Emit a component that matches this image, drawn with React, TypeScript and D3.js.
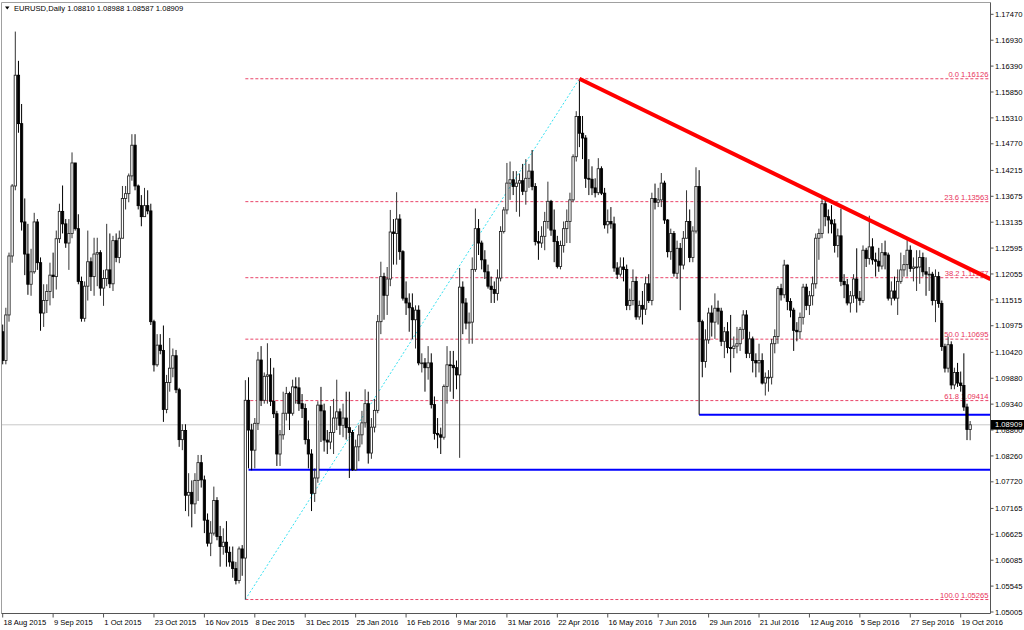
import * as d3 from 'd3';

// EURUSD daily, one value per trading day from 18 Aug 2015 to 24 Oct 2016 (one row per week)
const firstOpen = 1.1085;

const closes = [
  1.1025, 1.1120, 1.1243, 1.1389,
  1.1620, 1.1519, 1.1314, 1.1247, 1.1184,
  1.1210, 1.1314, 1.1229, 1.1124, 1.1150,
  1.1169, 1.1203, 1.1200, 1.1279, 1.1336,
  1.1310, 1.1270, 1.1290, 1.1437, 1.1300,
  1.1190, 1.1113, 1.1180, 1.1231, 1.1200,
  1.1247, 1.1250, 1.1176, 1.1196, 1.1214,
  1.1185, 1.1275, 1.1240, 1.1280, 1.1363,
  1.1373, 1.1410, 1.1474, 1.1389, 1.1348,
  1.1325, 1.1348, 1.1337, 1.1106, 1.1016,
  1.1057, 1.1046, 1.0923, 1.0979, 1.1009,
  1.1035, 1.0964, 1.0860, 1.0879, 1.0744,
  1.0750, 1.0726, 1.0775, 1.0812, 1.0776,
  1.0692, 1.0644, 1.0665, 1.0733, 1.0658,
  1.0637, 1.0646, 1.0625, 1.0605, 1.0591,
  1.0566, 1.0632, 1.0613, 1.0942, 1.0880,
  1.0838, 1.0894, 1.1026, 1.0942, 1.0992,
  1.0995, 1.0940, 1.0914, 1.0830, 1.0870,
  1.0915, 1.0956, 1.0915, 1.0970,
  1.0968, 1.0935, 1.0925, 1.0860,
  1.0830, 1.0748, 1.0780, 1.0932, 1.0920,
  1.0859, 1.0855, 1.0875, 1.0905, 1.0918,
  1.0890, 1.0905, 1.0885, 1.0875, 1.0797,
  1.0845, 1.0870, 1.0895, 1.0935, 1.0832,
  1.0886, 1.0921, 1.1106, 1.1200, 1.1161,
  1.1195, 1.1293, 1.1290, 1.1320, 1.1252,
  1.1155, 1.1145, 1.1135, 1.1110, 1.1130,
  1.1020, 1.1020, 1.1010, 1.1020, 1.0933,
  1.0873, 1.0870, 1.0865, 1.0971, 1.1016,
  1.1015, 1.1010, 1.0995, 1.1178, 1.1145,
  1.1103, 1.1105, 1.1215, 1.1300, 1.1270,
  1.1235, 1.1210, 1.1180, 1.1173, 1.1165,
  1.1197, 1.1294, 1.1339, 1.1395, 1.1402,
  1.1388, 1.1395, 1.1400, 1.1378, 1.1405,
  1.1420, 1.1388, 1.1273, 1.1270, 1.1284,
  1.1315, 1.1357, 1.1297, 1.1273, 1.1221,
  1.1265, 1.1300, 1.1315, 1.1360, 1.1450,
  1.1534, 1.1499, 1.1489, 1.1405, 1.1403,
  1.1385, 1.1375, 1.1425, 1.1374, 1.1308,
  1.1315, 1.1310, 1.1218, 1.1205, 1.1220,
  1.1215, 1.1140, 1.1150, 1.1190, 1.1116,
  1.1140, 1.1132, 1.1185, 1.1150, 1.1363,
  1.1355, 1.1360, 1.1395, 1.1318, 1.1252,
  1.1290, 1.1207, 1.1259, 1.1224, 1.1280,
  1.1315, 1.1240, 1.1295, 1.1388, 1.1106,
  1.1023, 1.1068, 1.1124, 1.1105, 1.1134,
  1.1128, 1.1065, 1.1085, 1.1052, 1.1050,
  1.1055, 1.1060, 1.1090, 1.1120, 1.1040,
  1.1070, 1.1025, 1.1020, 1.1025, 1.0978,
  1.0990, 1.0990, 1.1060, 1.1075, 1.1175,
  1.1162, 1.1224, 1.1148, 1.1130, 1.1088,
  1.1085, 1.1115, 1.1178, 1.1140, 1.1160,
  1.1185, 1.1280, 1.1290, 1.1352, 1.1325,
  1.1318, 1.1310, 1.1265, 1.1285, 1.1190,
  1.1183, 1.1145, 1.1160, 1.1195, 1.1155,
  1.1150, 1.1255, 1.1238, 1.1262, 1.1235,
  1.1232, 1.1222, 1.1250, 1.1245, 1.1155,
  1.1170, 1.1155, 1.1190, 1.1214, 1.1225,
  1.1255, 1.1217, 1.1220, 1.1220, 1.1240,
  1.1210, 1.1205, 1.1205, 1.1150, 1.1200,
  1.1144, 1.1054, 1.1009, 1.1058, 1.0974,
  1.1000, 1.0978, 1.0973, 1.0928, 1.0881,
  1.08909,
];

const highs = [
  1.1100, 1.1135, 1.1250, 1.1393,
  1.1711, 1.1650, 1.1560, 1.1363, 1.1310,
  1.1258, 1.1333, 1.1320, 1.1240, 1.1184,
  1.1184, 1.1229, 1.1250, 1.1296, 1.1352,
  1.1390, 1.1320, 1.1320, 1.1459, 1.1437,
  1.1330, 1.1200, 1.1190, 1.1296, 1.1240,
  1.1281, 1.1281, 1.1255, 1.1214, 1.1310,
  1.1290, 1.1285, 1.1290, 1.1296, 1.1389,
  1.1389, 1.1415, 1.1497, 1.1497, 1.1392,
  1.1370, 1.1385, 1.1380, 1.1352, 1.1110,
  1.1080, 1.1080, 1.1098, 1.0995, 1.1072,
  1.1050, 1.1047, 1.0968, 1.0892, 1.0892,
  1.0790, 1.0775, 1.0790, 1.0828, 1.0828,
  1.0785, 1.0706, 1.0690, 1.0762, 1.0740,
  1.0680, 1.0675, 1.0690, 1.0637, 1.0637,
  1.0605, 1.0637, 1.0640, 1.0984, 1.0990,
  1.0893, 1.0905, 1.1043, 1.1055, 1.1000,
  1.1061, 1.1030, 1.1010, 1.0920, 1.0880,
  1.0960, 1.0970, 1.0960, 1.0985,
  1.0990, 1.0990, 1.0955, 1.0935,
  1.0900, 1.0840, 1.0800, 1.0940, 1.0970,
  1.0935, 1.0880, 1.0930, 1.0945, 1.0985,
  1.0925, 1.0935, 1.0960, 1.0960, 1.0880,
  1.0860, 1.0890, 1.0920, 1.0965, 1.0960,
  1.0905, 1.0945, 1.1120, 1.1231, 1.1208,
  1.1220, 1.1339, 1.1320, 1.1376, 1.1330,
  1.1255, 1.1190, 1.1165, 1.1165, 1.1140,
  1.1140, 1.1040, 1.1030, 1.1055, 1.1040,
  1.0950, 1.0905, 1.0885, 1.0975, 1.1055,
  1.1045, 1.1045, 1.1025, 1.1218, 1.1190,
  1.1155, 1.1125, 1.1240, 1.1342, 1.1320,
  1.1275, 1.1255, 1.1225, 1.1200, 1.1190,
  1.1215, 1.1305, 1.1345, 1.1437, 1.1440,
  1.1420, 1.1420, 1.1415, 1.1435, 1.1445,
  1.1435, 1.1464, 1.1395, 1.1295, 1.1305,
  1.1335, 1.1398, 1.1360, 1.1340, 1.1285,
  1.1275, 1.1315, 1.1340, 1.1375, 1.1455,
  1.1545, 1.16126, 1.1535, 1.1495, 1.1445,
  1.1430, 1.1405, 1.1447, 1.1430, 1.1385,
  1.1340, 1.1345, 1.1325, 1.1230, 1.1240,
  1.1240, 1.1225, 1.1175, 1.1215, 1.1200,
  1.1150, 1.1170, 1.1200, 1.1205, 1.1375,
  1.1394, 1.1385, 1.1416, 1.1400, 1.1320,
  1.1300, 1.1295, 1.1275, 1.1270, 1.1295,
  1.1380, 1.1340, 1.1305, 1.1428, 1.1422,
  1.1110, 1.1090, 1.1135, 1.1140, 1.1165,
  1.1150, 1.1135, 1.1095, 1.1105, 1.1120,
  1.1075, 1.1095, 1.1095, 1.1130, 1.1130,
  1.1085, 1.1075, 1.1040, 1.1060, 1.1040,
  1.1000, 1.1005, 1.1070, 1.1090, 1.1180,
  1.1185, 1.1235, 1.1225, 1.1155, 1.1135,
  1.1105, 1.1125, 1.1185, 1.1185, 1.1170,
  1.1200, 1.1290, 1.1300, 1.1366, 1.1360,
  1.1340, 1.1349, 1.1320, 1.1300, 1.1342,
  1.1205, 1.1195, 1.1170, 1.1205, 1.1259,
  1.1170, 1.1265, 1.1260, 1.1327, 1.1280,
  1.1250, 1.1260, 1.1270, 1.1275, 1.1250,
  1.1190, 1.1200, 1.1215, 1.1250, 1.1245,
  1.1276, 1.1265, 1.1240, 1.1255, 1.1255,
  1.1250, 1.1240, 1.1220, 1.1210, 1.1215,
  1.1210, 1.1150, 1.1060, 1.1075, 1.1065,
  1.1010, 1.1020, 1.1002, 1.1040, 1.0935,
  1.08988,
];

const lows = [
  1.1017, 1.1017, 1.1106, 1.1229,
  1.1380, 1.1500, 1.1296, 1.1203, 1.1162,
  1.1160, 1.1206, 1.1214, 1.1087, 1.1095,
  1.1124, 1.1140, 1.1155, 1.1173, 1.1270,
  1.1290, 1.1260, 1.1214, 1.1280, 1.1296,
  1.1184, 1.1106, 1.1106, 1.1150, 1.1170,
  1.1160, 1.1180, 1.1160, 1.1139, 1.1180,
  1.1176, 1.1170, 1.1230, 1.1228, 1.1280,
  1.1340, 1.1355, 1.1400, 1.1380, 1.1340,
  1.1305, 1.1325, 1.1330, 1.1099, 1.1002,
  1.1012, 1.1038, 1.0897, 1.0915, 1.0960,
  1.0990, 1.0957, 1.0845, 1.0838, 1.0711,
  1.0700, 1.0677, 1.0705, 1.0732, 1.0760,
  1.0665, 1.0637, 1.0617, 1.0660, 1.0650,
  1.0595, 1.0620, 1.0595, 1.0595, 1.0572,
  1.0558, 1.0560, 1.0576, 1.05265, 1.0800,
  1.0796, 1.0800, 1.0880, 1.0930, 1.0935,
  1.0935, 1.0930, 1.0905, 1.0805, 1.0805,
  1.0860, 1.0900, 1.0880, 1.0910,
  1.0935, 1.0920, 1.0905, 1.0850,
  1.0800, 1.0711, 1.0730, 1.0770, 1.0855,
  1.0835, 1.0830, 1.0840, 1.0830, 1.0880,
  1.0870, 1.0865, 1.0860, 1.0780, 1.0795,
  1.0795, 1.0815, 1.0850, 1.0885, 1.0810,
  1.0820, 1.0875, 1.0915, 1.1080, 1.1110,
  1.1120, 1.1180, 1.1225, 1.1225, 1.1235,
  1.1150, 1.1120, 1.1085, 1.1070, 1.1050,
  1.1015, 1.1000, 1.0960, 1.0985, 1.0925,
  1.0860, 1.0842, 1.0830, 1.0860, 1.0935,
  1.0960, 1.0945, 1.0965, 1.0822, 1.1080,
  1.1090, 1.1060, 1.1060, 1.1210, 1.1245,
  1.1215, 1.1195, 1.1175, 1.1145, 1.1145,
  1.1150, 1.1190, 1.1290, 1.1330, 1.1360,
  1.1370, 1.1335, 1.1325, 1.1370, 1.1350,
  1.1385, 1.1380, 1.1265, 1.1235, 1.1260,
  1.1255, 1.1300, 1.1285, 1.1230, 1.1217,
  1.1215, 1.1250, 1.1270, 1.1270, 1.1355,
  1.1440, 1.1470, 1.1445, 1.1385, 1.1370,
  1.1370, 1.1365, 1.1370, 1.1370, 1.1300,
  1.1290, 1.1300, 1.1210, 1.1195, 1.1200,
  1.1190, 1.1130, 1.1130, 1.1140, 1.1110,
  1.1110, 1.1100, 1.1120, 1.1145, 1.1140,
  1.1340, 1.1345, 1.1345, 1.1310, 1.1240,
  1.1235, 1.1200, 1.1195, 1.1130, 1.1215,
  1.1280, 1.1230, 1.1230, 1.1290, 1.0912,
  1.0990, 1.1010, 1.1060, 1.1075, 1.1070,
  1.1100, 1.1055, 1.1030, 1.1040, 1.1000,
  1.1030, 1.1040, 1.1045, 1.1070, 1.1030,
  1.1030, 1.1000, 1.0990, 1.1000, 1.0975,
  1.0952, 1.0960, 1.0975, 1.1040, 1.1060,
  1.1150, 1.1155, 1.1130, 1.1115, 1.1045,
  1.1065, 1.1070, 1.1100, 1.1130, 1.1120,
  1.1140, 1.1175, 1.1235, 1.1280, 1.1305,
  1.1290, 1.1290, 1.1250, 1.1240, 1.1180,
  1.1155, 1.1140, 1.1125, 1.1145, 1.1125,
  1.1140, 1.1145, 1.1220, 1.1225, 1.1225,
  1.1200, 1.1210, 1.1215, 1.1215, 1.1150,
  1.1140, 1.1150, 1.1120, 1.1185, 1.1200,
  1.1200, 1.1210, 1.1190, 1.1170, 1.1185,
  1.1200, 1.1160, 1.1170, 1.1140, 1.1105,
  1.1135, 1.1045, 1.1000, 1.1000, 1.0965,
  1.0965, 1.0970, 1.0960, 1.0920, 1.0859,
  1.08587,
];

// time axis: one label every 16 bars
const dateLabels = [
  '18 Aug 2015', '9 Sep 2015', '1 Oct 2015', '23 Oct 2015', '16 Nov 2015',
  '8 Dec 2015', '31 Dec 2015', '25 Jan 2016', '16 Feb 2016', '9 Mar 2016',
  '31 Mar 2016', '22 Apr 2016', '16 May 2016', '7 Jun 2016', '29 Jun 2016',
  '21 Jul 2016', '12 Aug 2016', '5 Sep 2016', '27 Sep 2016', '19 Oct 2016',
];
const labelEvery = 16;

const priceTicks = [
  '1.17470', '1.16930', '1.16390', '1.15850', '1.15310', '1.14770', '1.14215', '1.13675',
  '1.13135', '1.12595', '1.12055', '1.11515', '1.10975', '1.10420', '1.09880', '1.09340',
  '1.08800', '1.08260', '1.07720', '1.07165', '1.06625', '1.06085', '1.05545', '1.05005',
];

// fibonacci retracement drawn from the 3 Dec 2015 low to the 3 May 2016 high
const fibRatios = ['0.0', '23.6', '38.2', '50.0', '61.8', '100.0'];
const fibPrices = [1.16126, 1.13563, 1.11977, 1.10695, 1.09414, 1.05265];
const fibLowBar = 77;
const fibHighBar = 183;

// falling resistance: May high through the August high
const resistance: [number, number][] = [[183, 1.16126], [260, 1.1366]];
// horizontal supports: [first bar, price]
const supports: [number, number][] = [[78, 1.0797], [221, 1.0912]];

const FONT = "'Liberation Sans', Arial, sans-serif";
const FS = 7.6;
const FIB_COLOR = '#e8325a';

export default function App() {
  const width = 1024;
  const height = 630;
  const plot = { left: 1.5, top: 2.5, right: 990.5, bottom: 613.5 };

  const lastTickBar = (dateLabels.length - 1) * labelEvery;
  const x = d3.scaleLinear().domain([0, lastTickBar]).range([2.7, 960.7]);
  const y = d3.scaleLinear().domain([1.04984, 1.17727]).range([613, 2]);

  const bars = closes.map((c, i) => {
    const o = i === 0 ? firstOpen : closes[i - 1];
    return { i, o, c, h: Math.max(highs[i], o, c), l: Math.min(lows[i], o, c) };
  });
  const last = bars[bars.length - 1];
  const lastPrice = last.c;

  const rightBar = x.invert(plot.right);
  const [[r1i, r1p], [r2i, r2p]] = resistance;
  const rSlope = (r2p - r1p) / (r2i - r1i);
  const rEndPrice = r1p + rSlope * (rightBar - r1i);

  const bodyW = 2.3;
  const fmt = (v: number) => v.toFixed(5);

  return (
    <div style={{ position: 'absolute', left: 0, top: 0, background: '#fff' }}>
      <svg width={width} height={height} style={{ display: 'block', fontFamily: FONT }}>
        <rect x={0} y={0} width={width} height={height} fill="#fff" />
        <defs>
          <clipPath id="plotClip">
            <rect x={plot.left} y={plot.top} width={plot.right - plot.left} height={plot.bottom - plot.top} />
          </clipPath>
        </defs>

        <g clipPath="url(#plotClip)">
          {/* current price line */}
          <line x1={plot.left} x2={plot.right} y1={y(lastPrice)} y2={y(lastPrice)} stroke="#c8c8c8" strokeWidth={1} />

          {/* fibonacci levels */}
          {fibPrices.map((p, k) => (
            <g key={`fib${k}`}>
              <line x1={x(fibLowBar)} x2={plot.right} y1={y(p)} y2={y(p)} stroke={FIB_COLOR} strokeWidth={1} strokeDasharray="3,2" opacity={0.9} />
              <text x={plot.right - 2} y={y(p) - 2} textAnchor="end" fontSize={FS} fill={FIB_COLOR}>
                {`${fibRatios[k]} ${fmt(p)}`}
              </text>
            </g>
          ))}

          {/* fibonacci base line */}
          <line
            x1={x(fibLowBar)} y1={y(fibPrices[fibPrices.length - 1])}
            x2={x(fibHighBar)} y2={y(fibPrices[0])}
            stroke="#33e0f0" strokeWidth={1} strokeDasharray="2,2"
          />

          {/* supports */}
          {supports.map(([from, p], k) => (
            <line key={`sup${k}`} x1={x(from)} x2={plot.right} y1={y(p)} y2={y(p)} stroke="#0000ff" strokeWidth={2} />
          ))}

          {/* candles */}
          {bars.map((b) => {
            const cx = x(b.i);
            const up = b.c >= b.o;
            const top = y(Math.max(b.o, b.c));
            const bot = y(Math.min(b.o, b.c));
            return (
              <g key={b.i}>
                <line x1={cx} x2={cx} y1={y(b.h)} y2={y(b.l)} stroke={up ? '#333' : '#000'} strokeWidth={1} />
                <rect
                  x={cx - bodyW / 2}
                  y={top}
                  width={bodyW}
                  height={Math.max(bot - top, 0.8)}
                  fill={up ? '#fff' : '#000'}
                  stroke={up ? '#222' : '#000'}
                  strokeWidth={0.85}
                />
              </g>
            );
          })}

          {/* resistance trend line */}
          <line x1={x(r1i)} y1={y(r1p)} x2={plot.right} y2={y(rEndPrice)} stroke="#ff0000" strokeWidth={4} />
        </g>

        {/* frame */}
        <line x1={plot.left} x2={plot.right} y1={plot.top} y2={plot.top} stroke="#a0a0a0" />
        <line x1={plot.left} x2={plot.left} y1={plot.top} y2={plot.bottom} stroke="#a0a0a0" />
        <line x1={plot.right} x2={plot.right} y1={plot.top} y2={plot.bottom} stroke="#555" />
        <line x1={plot.left} x2={plot.right} y1={plot.bottom} y2={plot.bottom} stroke="#555" />

        {/* title */}
        <path d="M5,6.5 L9.5,6.5 L7.25,9.5 Z" fill="#000" />
        <text x={14} y={11} fontSize={FS} fill="#000">
          {`EURUSD,Daily  ${fmt(last.o)} ${fmt(last.h)} ${fmt(last.l)} ${fmt(last.c)}`}
        </text>

        {/* price axis */}
        {priceTicks.map((t) => (
          <g key={t}>
            <line x1={plot.right} x2={plot.right + 3} y1={y(+t)} y2={y(+t)} stroke="#555" />
            <text x={995} y={y(+t)} dy="0.35em" fontSize={FS} fill="#000">{t}</text>
          </g>
        ))}
        <rect x={991} y={y(lastPrice) - 4.8} width={33} height={9.6} fill="#000" />
        <text x={995} y={y(lastPrice)} dy="0.35em" fontSize={FS} fill="#fff">{fmt(lastPrice)}</text>

        {/* time axis */}
        {dateLabels.map((d, k) => {
          const tx = x(k * labelEvery);
          return (
            <g key={d}>
              <line x1={tx} x2={tx} y1={plot.bottom} y2={plot.bottom + 4} stroke="#555" />
              <text x={tx + 0.8} y={624.5} fontSize={FS} fill="#000">{d}</text>
            </g>
          );
        })}
      </svg>
    </div>
  );
}
